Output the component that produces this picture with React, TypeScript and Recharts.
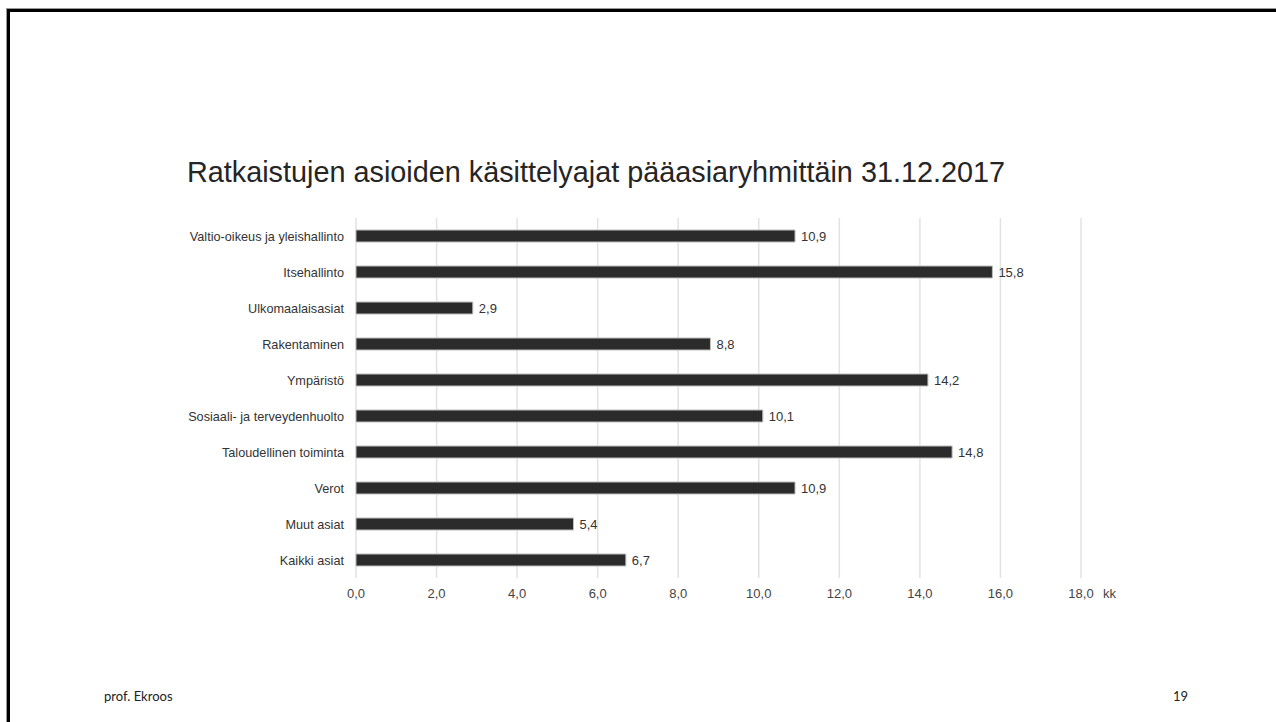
import { Bar, BarChart, CartesianGrid, LabelList, XAxis, YAxis, Label } from "recharts";

const categories = [
  "Valtio-oikeus ja yleishallinto",
  "Itsehallinto",
  "Ulkomaalaisasiat",
  "Rakentaminen",
  "Ympäristö",
  "Sosiaali- ja terveydenhuolto",
  "Taloudellinen toiminta",
  "Verot",
  "Muut asiat",
  "Kaikki asiat",
];

const months = [10.9, 15.8, 2.9, 8.8, 14.2, 10.1, 14.8, 10.9, 5.4, 6.7];

const xTicks = [0, 2, 4, 6, 8, 10, 12, 14, 16, 18];

const data = categories.map((name, i) => ({ name, value: months[i] }));

const fmt = (v: number) => v.toFixed(1).replace(".", ",");

export default function App() {
  return (
    <div
      style={{
        position: "fixed",
        left: 0,
        top: 0,
        width: 1276,
        height: 722,
        overflow: "hidden",
        background: "#fff",
        fontFamily: "'Liberation Sans', Arial, sans-serif",
      }}
    >
      <div
        style={{
          position: "absolute",
          left: 7,
          top: 9,
          width: 1400,
          height: 900,
          border: "3px solid #000",
          boxShadow: "0 0 0 1px #999",
        }}
      />
      <div
        style={{
          position: "absolute",
          left: 187,
          top: 155,
          fontSize: 28.8,
          lineHeight: "34px",
          color: "#252525",
          whiteSpace: "nowrap",
        }}
      >
        Ratkaistujen asioiden käsittelyajat pääasiaryhmittäin 31.12.2017
      </div>

      <div style={{ position: "absolute", left: 0, top: 0 }}>
        <BarChart
          width={1276}
          height={722}
          data={data}
          layout="vertical"
          margin={{ top: 218, right: 195, bottom: 114, left: 0 }}
          barCategoryGap={12}
        >
          <CartesianGrid horizontal={false} vertical stroke="#e2e2e2" strokeWidth={1.5} />
          <XAxis
            type="number"
            domain={[0, 18]}
            ticks={xTicks}
            tickFormatter={fmt}
            axisLine={false}
            tickLine={false}
            tickSize={0}
            tickMargin={11}
            height={30}
            tick={{ fill: "#444", fontSize: 13 }}
          >
            <Label value="kk" position="right" offset={22} fill="#444" fontSize={13} />
          </XAxis>
          <YAxis
            type="category"
            dataKey="name"
            width={356}
            axisLine={false}
            tickLine={false}
            tickSize={0}
            tickMargin={12}
            interval={0}
            tick={{ fill: "#333", fontSize: 12.7 }}
          />
          <Bar
            dataKey="value"
            fill="#2b2b2b"
            stroke="#bdbdbd"
            strokeWidth={1}
            barSize={12}
            isAnimationActive={false}
          >
            <LabelList
              dataKey="value"
              position="right"
              offset={6}
              formatter={(v: any) => fmt(Number(v))}
              fill="#333"
              fontSize={13}
            />
          </Bar>
        </BarChart>
      </div>

      <div
        style={{
          position: "absolute",
          left: 104,
          top: 687,
          fontFamily: "Lato, 'Open Sans', sans-serif",
          fontSize: 13,
          lineHeight: "18px",
          color: "#222",
        }}
      >
        prof. Ekroos
      </div>
      <div
        style={{
          position: "absolute",
          left: 1173,
          top: 687,
          fontFamily: "Lato, 'Open Sans', sans-serif",
          fontSize: 13,
          lineHeight: "18px",
          color: "#222",
        }}
      >
        19
      </div>
    </div>
  );
}
